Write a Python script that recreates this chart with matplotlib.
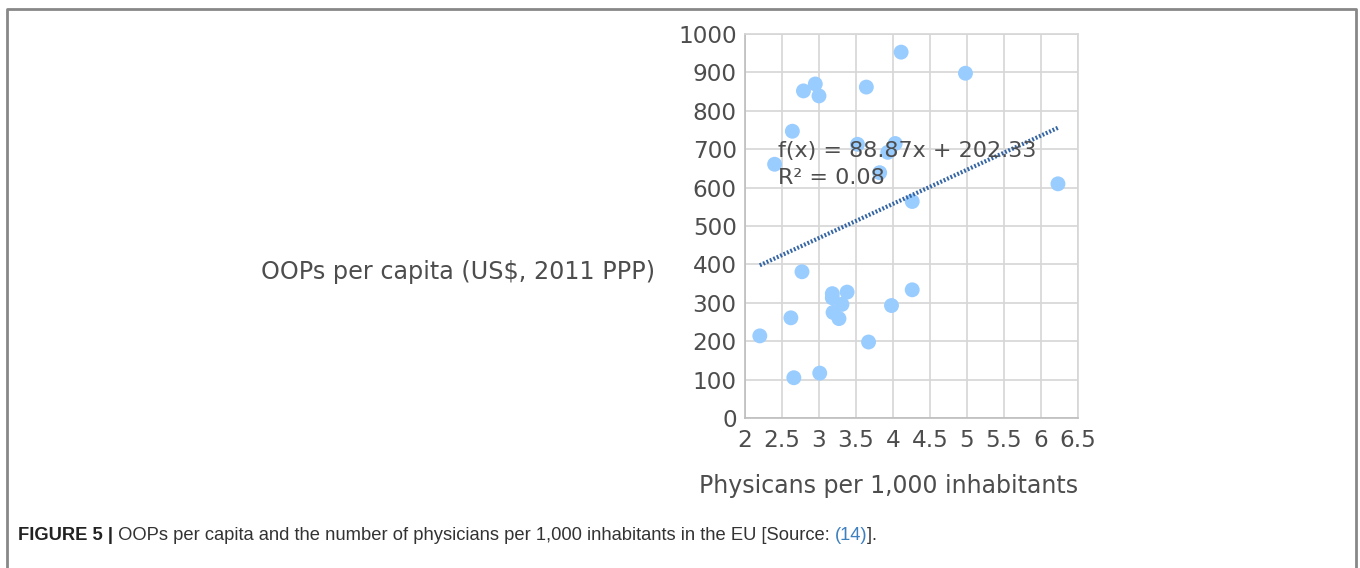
import numpy as np
import matplotlib
matplotlib.use("Agg")
import matplotlib.pyplot as plt
from matplotlib.lines import Line2D

# physicians per 1,000 inhabitants vs OOPs per capita (EU-28)
physicians = [2.20, 2.40, 2.64, 2.62, 2.66, 2.77, 2.79, 2.95, 3.00, 3.01,
              3.18, 3.18, 3.19, 3.27, 3.31, 3.38, 3.52, 3.64, 3.67, 3.82,
              3.93, 3.98, 4.03, 4.11, 4.26, 4.26, 4.98, 6.23]
oops = [214, 661, 747, 261, 105, 381, 852, 870, 839, 117,
        324, 313, 275, 259, 296, 328, 713, 862, 198, 639,
        692, 293, 715, 953, 564, 334, 898, 610]

slope = 88.87
intercept = 202.33
xticks = [2, 2.5, 3, 3.5, 4, 4.5, 5, 5.5, 6, 6.5]
yticks = [0, 100, 200, 300, 400, 500, 600, 700, 800, 900, 1000]

txt_col = '#4d4d4d'
fig = plt.figure(figsize=(13.6, 5.68), dpi=100)
ax = fig.add_axes([0.5478, 0.264, 0.2448, 0.676])

ax.scatter(physicians, oops, s=115, color='#99ccff', edgecolors='none', zorder=3)
xs = np.array([min(physicians), max(physicians)])
ax.plot(xs, slope * xs + intercept, color='#3465a4', lw=3, ls=(0, (0.45, 0.45)), zorder=4)
ax.text(2.44, 696, 'f(x) = 88.87x + 202.33', fontsize=16, color=txt_col, va='center', zorder=5)
ax.text(2.44, 626, 'R² = 0.08', fontsize=16, color=txt_col, va='center', zorder=5)

ax.set_xlim(2, 6.5)
ax.set_ylim(0, 1000)
ax.set_xticks(xticks)
ax.set_xticklabels(['2', '2.5', '3', '3.5', '4', '4.5', '5', '5.5', '6', '6.5'])
ax.set_yticks(yticks)
ax.grid(True, color='#d6d6d6', lw=1.2, zorder=0)
ax.set_axisbelow(True)
for s in ax.spines.values():
    s.set_color('#d6d6d6')
    s.set_linewidth(1.2)
ax.spines['left'].set_color('#bdbdbd')
ax.spines['bottom'].set_color('#bdbdbd')
ax.tick_params(length=0, labelsize=16.7, labelcolor=txt_col)
ax.tick_params(axis='x', pad=8)
ax.tick_params(axis='y', pad=6)

fig.text(0.4816, 0.521, 'OOPs per capita (US$, 2011 PPP)', fontsize=17.2, color=txt_col,
         ha='right', va='center')
fig.text(0.653, 0.144, 'Physicans per 1,000 inhabitants', fontsize=17, color=txt_col,
         ha='center', va='center')

# frame around the figure (open at the bottom)
fig.add_artist(Line2D([0.0055, 0.0055, 0.997, 0.997], [0.0, 0.984, 0.984, 0.0],
                      transform=fig.transFigure, color='#888888', lw=2))

# caption
cap_font = ['Liberation Sans', 'DejaVu Sans']
pieces = [('FIGURE 5 |', 'bold', '#222222'),
          (' OOPs per capita and the number of physicians per 1,000 inhabitants in the EU [Source: ', 'normal', '#333333'),
          ('(14)', 'normal', '#3d7fbf'),
          (']. ', 'normal', '#333333')]
fig.canvas.draw()
renderer = fig.canvas.get_renderer()
x = 18
for s, w, c in pieces:
    t = fig.text(x / 1360, 1 - 536 / 568, s, fontsize=13.2, fontweight=w, color=c,
                 family=cap_font, va='center', ha='left')
    bb = t.get_window_extent(renderer=renderer)
    x += bb.width

fig.savefig('out.png', dpi=100)
